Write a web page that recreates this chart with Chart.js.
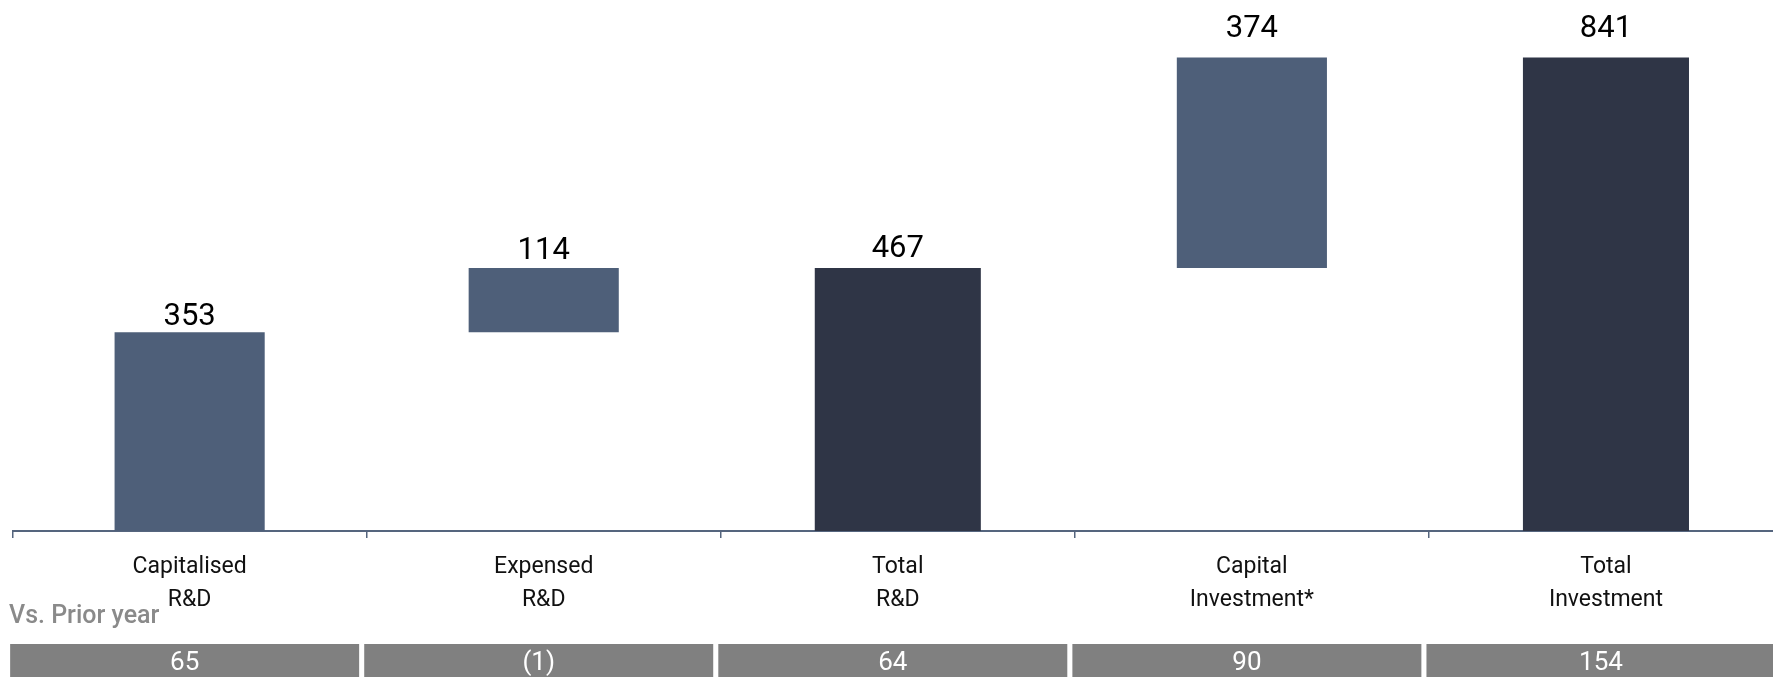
<!DOCTYPE html>
<html>
<head>
<meta charset="utf-8">
<script src="https://cdn.jsdelivr.net/npm/chart.js@4/dist/chart.umd.min.js"></script>
<style>
  html, body { margin: 0; padding: 0; background: #fff; overflow: hidden; }
  #wrap { width: 1783px; height: 677px; }
</style>
</head>
<body>
<div id="wrap"><canvas id="grafico-investimento" width="1783" height="677"></canvas></div>
<script>
// valores
const categorias = [['Capitalised', 'R&D'], ['Expensed', 'R&D'], ['Total', 'R&D'], ['Capital', 'Investment*'], ['Total', 'Investment']];
const valores = [353, 114, 467, 374, 841];
const ehTotal = [false, false, true, false, true];
const vsAnoAnterior = ['65', '(1)', '64', '90', '154'];
const tituloLinha = 'Vs. Prior year';

// estilos
const corParcial = '#4e5f79';
const corTotal = '#2f3546';
const corEixo = '#55657e';
const fonte = 'Roboto, "DejaVu Sans", sans-serif';
const folgaRotulo = [7, 9, 11, 20, 20];

// monta as barras flutuantes (cascata)
let acumulado = 0;
const parciais = [];
const totais = [];
valores.forEach(function (v, i) {
    if (ehTotal[i]) {
        parciais.push(null);
        totais.push(v);
        acumulado = v;
    } else {
        parciais.push([acumulado, acumulado + v]);
        totais.push(null);
        acumulado += v;
    }
});

const rotulosValores = {
    id: 'rotulosValores',
    afterDatasetsDraw(chart) {
        const ctx = chart.ctx;
        ctx.save();
        ctx.font = '31px ' + fonte;
        ctx.fillStyle = '#000';
        ctx.textAlign = 'center';
        ctx.textBaseline = 'alphabetic';
        valores.forEach(function (v, i) {
            const ds = ehTotal[i] ? 1 : 0;
            const barra = chart.getDatasetMeta(ds).data[i];
            ctx.fillText(String(v), barra.x, barra.y - folgaRotulo[i]);
        });
        ctx.restore();
    }
};

const linhaAnterior = {
    id: 'linhaAnterior',
    afterDraw(chart) {
        const ctx = chart.ctx;
        const x = chart.scales.x;
        const base = chart.chartArea.bottom;
        ctx.save();
        ctx.font = '500 25px ' + fonte;
        ctx.fillStyle = '#8a8a8a';
        ctx.textAlign = 'left';
        ctx.textBaseline = 'alphabetic';
        ctx.fillText(tituloLinha, 9, base + 92);

        const largura = 349;
        vsAnoAnterior.forEach(function (txt, i) {
            const cx = x.getPixelForValue(i) - 5;
            ctx.fillStyle = '#808080';
            ctx.fillRect(cx - largura / 2, base + 113, largura, 40);
            ctx.fillStyle = '#fff';
            ctx.font = '26px ' + fonte;
            ctx.textAlign = 'center';
            ctx.textBaseline = 'middle';
            ctx.fillText(txt, cx, base + 132);
        });
        ctx.restore();
    }
};

new Chart(document.getElementById('grafico-investimento').getContext('2d'), {
    type: 'bar',
    data: {
        labels: categorias,
        datasets: [
            {
                label: 'Parcial',
                data: parciais,
                backgroundColor: corParcial,
                barPercentage: 0.424,
                categoryPercentage: 1,
                grouped: false
            },
            {
                label: 'Total',
                data: totais,
                backgroundColor: corTotal,
                barPercentage: 0.469,
                categoryPercentage: 1,
                grouped: false
            }
        ]
    },
    options: {
        responsive: false,
        animation: false,
        devicePixelRatio: 1,
        layout: { padding: { left: 12.6, right: 0, top: 0, bottom: 0 } },
        plugins: {
            legend: { display: false },
            tooltip: { enabled: false }
        },
        scales: {
            y: { display: false, min: 0, max: 943 },
            x: {
                offset: true,
                grid: { display: true, drawOnChartArea: false, drawTicks: true, tickLength: 7, color: corEixo, lineWidth: 1.5, offset: true },
                border: { display: true, color: corEixo, width: 2 },
                ticks: {
                    color: '#111',
                    font: { family: fonte, size: 23, lineHeight: 1.43 },
                    padding: 13,
                    maxRotation: 0,
                    autoSkip: false
                },
                afterFit: function (s) { s.height = 146; }
            }
        }
    },
    plugins: [rotulosValores, linhaAnterior]
});
</script>
</body>
</html>
